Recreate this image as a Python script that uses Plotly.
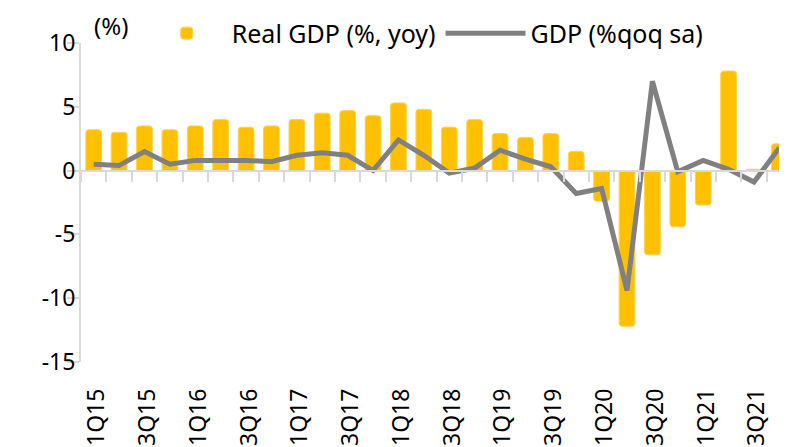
import plotly.graph_objects as go

quarters = [f"{q}Q{y}" for y in range(15, 22) for q in (1, 2, 3, 4)]
real_gdp_yoy = [3.2, 3.0, 3.5, 3.2, 3.5, 4.0, 3.4, 3.5,
                4.0, 4.5, 4.7, 4.3, 5.3, 4.8, 3.4, 4.0,
                2.9, 2.6, 2.9, 1.5, -2.4, -12.2, -6.6, -4.4,
                -2.7, 7.8, 0.1, 2.1]
gdp_qoq = [0.5, 0.4, 1.5, 0.5, 0.8, 0.8, 0.8, 0.7,
           1.2, 1.4, 1.2, 0.0, 2.4, 1.2, -0.2, 0.2,
           1.6, 0.9, 0.3, -1.8, -1.4, -9.4, 7.0, -0.1,
           0.8, 0.1, -0.9, 1.8]
tick_labels = quarters[::2]
y_tick_vals = [-15, -10, -5, 0, 5, 10]
y_tick_text = ["-15", "-10", "-5", "0", "5", "10"]

FONT = "Noto Sans"
AXIS_GREY = "#d9d9d9"
xrange = [-0.5, 27.3]

fig = go.Figure()
fig.add_trace(go.Bar(
    x=quarters, y=real_gdp_yoy, name="Real GDP (%, yoy)",
    marker=dict(color="#FFC000", line=dict(color="#FFD24D", width=1), cornerradius=3),
    width=0.62, xaxis="x", yaxis="y",
))
fig.add_trace(go.Scatter(
    x=quarters, y=gdp_qoq, name="GDP (%qoq sa)", mode="lines",
    line=dict(color="#808080", width=5), xaxis="x2", yaxis="y",
))

# page body has an 8px default margin, so the figure is offset by 8px
fig.update_layout(
    width=779, height=439,
    margin=dict(l=73, r=0, t=35, b=85, autoexpand=False),
    paper_bgcolor="white", plot_bgcolor="white",
    font=dict(family=FONT, color="#000000"),
    showlegend=True,
    legend=dict(orientation="h", x=0.086, y=1.03, xanchor="left", yanchor="middle",
                font=dict(size=25, family=FONT), bgcolor="rgba(0,0,0,0)",
                itemwidth=80, traceorder="normal"),
    xaxis=dict(type="category", categoryorder="array", categoryarray=quarters,
               range=xrange, showline=False, showgrid=False, zeroline=False,
               ticks="", tickmode="array", tickvals=tick_labels, ticktext=tick_labels,
               tickangle=-90, tickfont=dict(size=23, family=FONT),
               ticklabelstandoff=21, ticklabelshift=3, automargin=False),
    xaxis2=dict(type="category", categoryorder="array", categoryarray=quarters,
                range=xrange, overlaying="x", anchor="free", position=0.6,
                showline=True, linecolor=AXIS_GREY, linewidth=2,
                ticks="outside", ticklen=10, tickwidth=2, tickcolor=AXIS_GREY,
                tickson="boundaries", tickmode="linear", tick0=0, dtick=1,
                showticklabels=False, showgrid=False, zeroline=False, automargin=False),
    yaxis=dict(range=[-15, 10], tickmode="array", tickvals=y_tick_vals, ticktext=y_tick_text,
               showgrid=False, zeroline=False,
               showline=True, linecolor=AXIS_GREY, linewidth=2,
               ticks="outside", ticklen=12, tickwidth=2, tickcolor=AXIS_GREY,
               tickfont=dict(size=23, family=FONT), ticklabelstandoff=-13, automargin=False),
    annotations=[dict(text="(%)", xref="paper", yref="paper", x=0.016, y=1.056,
                      xanchor="left", yanchor="middle", showarrow=False,
                      font=dict(size=24, family=FONT))],
)

fig.write_html("out.html")
